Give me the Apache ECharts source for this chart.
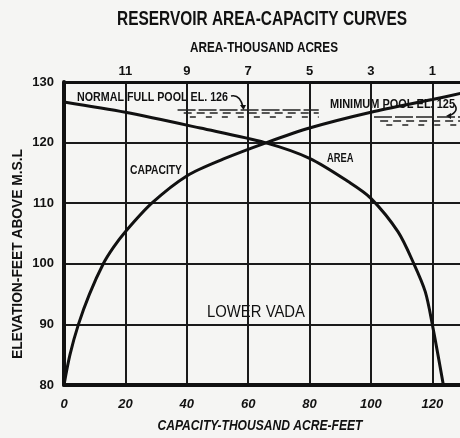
<!DOCTYPE html>
<html>
<head>
<meta charset="utf-8">
<script src="https://cdn.jsdelivr.net/npm/echarts@6/dist/echarts.min.js"></script>
<style>
  html, body { margin: 0; padding: 0; background: #f5f5f3; }
  #chart { width: 460px; height: 438px; }
</style>
</head>
<body>
<div id="chart"></div>
<script>
// Capacity curve: storage (thousand acre-feet) against pool elevation (ft above MSL)
const capacityKaf  = [0, 1.95, 4.7, 8.3, 12.8, 16.1, 20, 28.6, 40, 52, 66, 80, 100, 120, 130];
const capacityElev = [80, 85, 90, 95, 100, 102.7, 105.3, 110, 114.5, 117.3, 120, 122.4, 125.0, 127.1, 128.2];

// Area curve: water surface area (thousand acres) against pool elevation
const areaKac  = [0.64, 1.0, 1.23, 1.6, 2.12, 3.0, 3.69, 5.0, 6.45, 8.56, 11.0, 13.0];
const areaElev = [80, 90, 95.4, 100, 105.3, 110.8, 113.4, 117.4, 120, 122.4, 125.0, 126.7];

// Tick labels
const capacityTickLabels  = [0, 20, 40, 60, 80, 100, 120];
const areaTickLabels      = [1, 3, 5, 7, 9, 11];
const elevationTickLabels = [80, 90, 100, 110, 120, 130];

// Reference pool levels and the capacity span of their water symbols
const normalPoolEl  = 126;
const minimumPoolEl = 125;
const normalPoolSpan  = [37, 83];
const minimumPoolSpan = [101, 130];

const INK = '#111';
const SANS = "'Liberation Sans', Arial, sans-serif";

// condensed lettering: squeeze a text run horizontally to a given width
const measureCtx = document.createElement('canvas').getContext('2d');
function squeeze(text, font, width) {
  measureCtx.font = font;
  return width / measureCtx.measureText(text).width;
}
function label(text, font, x, y, width, align, extra) {
  return Object.assign({
    type: 'text', x: x, y: y, scaleX: squeeze(text, font, width),
    style: { text: text, font: font, fill: INK, align: align, verticalAlign: 'middle' }
  }, extra || {});
}

// water-surface symbol: three staggered dashed rows under a pool level
function waterRows(el, span, offsets) {
  const dashes = [[18, 3], [8, 5], [6, 10]];
  return offsets.map((dy, i) => [
    { coord: [span[0] + i * 2, el - dy], lineStyle: { type: dashes[i], width: 1.6, color: '#222' } },
    { coord: [span[1], el - dy] }
  ]);
}

const tickFont = { fontFamily: SANS, fontWeight: 'bold', color: INK, fontSize: 13 };

const chart = echarts.init(document.getElementById('chart'), null, { renderer: 'canvas' });

const option = {
  backgroundColor: '#f5f5f3',
  animation: false,
  grid: { left: 64, top: 82, width: 399, height: 303, containLabel: false, outerBoundsMode: 'none' },
  xAxis: [
    {
      type: 'value', position: 'bottom', min: 0, max: 130, interval: 20,
      axisLine: { show: true, onZero: false, lineStyle: { color: INK, width: 4 } },
      axisTick: { show: false },
      axisLabel: {
        formatter: v => capacityTickLabels.includes(v) ? String(v) : '',
        ...tickFont, fontStyle: 'italic', margin: 13
      },
      splitLine: { show: true, lineStyle: { color: '#1a1a1a', width: 2 } }
    },
    {
      type: 'value', position: 'top', min: 0, max: 13, interval: 1, inverse: true,
      axisLine: { show: true, onZero: false, lineStyle: { color: INK, width: 3 } },
      axisTick: { show: false },
      axisLabel: {
        formatter: v => areaTickLabels.includes(v) ? String(v) : '',
        ...tickFont, margin: 4
      },
      splitLine: { show: false }
    }
  ],
  yAxis: {
    type: 'value', min: 80, max: 130, interval: 10,
    axisLine: { show: true, onZero: false, lineStyle: { color: INK, width: 4 } },
    axisTick: { show: false },
    axisLabel: {
      formatter: v => elevationTickLabels.includes(v) ? String(v) : '',
      ...tickFont, margin: 10
    },
    splitLine: { show: true, lineStyle: { color: '#1a1a1a', width: 2 } }
  },
  series: [
    {
      name: 'Capacity', type: 'line', xAxisIndex: 0,
      data: capacityKaf.map((c, i) => [c, capacityElev[i]]),
      smooth: 0.3, symbol: 'none',
      lineStyle: { color: INK, width: 3 }
    },
    {
      name: 'Area', type: 'line', xAxisIndex: 1,
      data: areaKac.map((a, i) => [a, areaElev[i]]),
      smooth: 0.3, symbol: 'none',
      lineStyle: { color: INK, width: 3 }
    },
    {
      name: 'Pools', type: 'line', xAxisIndex: 0, data: [],
      markLine: {
        silent: true, symbol: ['none', 'none'], label: { show: false },
        data: [
          ...waterRows(normalPoolEl, normalPoolSpan, [0.6, 1.1, 1.7]),
          ...waterRows(minimumPoolEl, minimumPoolSpan, [0.8, 1.4, 2.1])
        ]
      }
    }
  ],
  graphic: [
    label('RESERVOIR AREA-CAPACITY CURVES', `bold 21px ${SANS}`, 262, 19.5, 290, 'center'),
    label('AREA-THOUSAND ACRES', `bold 15px ${SANS}`, 264, 47.5, 148, 'center'),
    label('CAPACITY-THOUSAND ACRE-FEET', `italic bold 15px ${SANS}`, 260, 426, 205, 'center'),
    label('ELEVATION-FEET ABOVE M.S.L', `bold 14px ${SANS}`, 18, 254, 210, 'center', { rotation: Math.PI / 2 }),
    label('NORMAL FULL POOL EL. 126', `bold 12.5px ${SANS}`, 77, 98, 151, 'left'),
    label('MINIMUM POOL EL. 125', `bold 12.5px ${SANS}`, 330, 105, 125, 'left'),
    label('CAPACITY', `bold 12.5px ${SANS}`, 130, 171, 52, 'left'),
    label('AREA', `bold 13px ${SANS}`, 327, 158, 26.5, 'left'),
    label('LOWER VADA', `16px ${SANS}`, 207, 313, 98, 'left'),
    // pointer hooks from the pool labels down to the water symbols
    { type: 'bezierCurve', shape: { x1: 231, y1: 96, x2: 243, y2: 107, cpx1: 240, cpy1: 94 }, style: { stroke: INK, lineWidth: 1.6, fill: null } },
    { type: 'polygon', shape: { points: [[240, 105], [246, 105], [243.5, 110]] }, style: { fill: INK } },
    { type: 'bezierCurve', shape: { x1: 454, y1: 104, x2: 449, y2: 116, cpx1: 460, cpy1: 111 }, style: { stroke: INK, lineWidth: 1.6, fill: null } },
    { type: 'polygon', shape: { points: [[451, 113], [451, 119], [446, 116]] }, style: { fill: INK } }
  ]
};

chart.setOption(option);
</script>
</body>
</html>
